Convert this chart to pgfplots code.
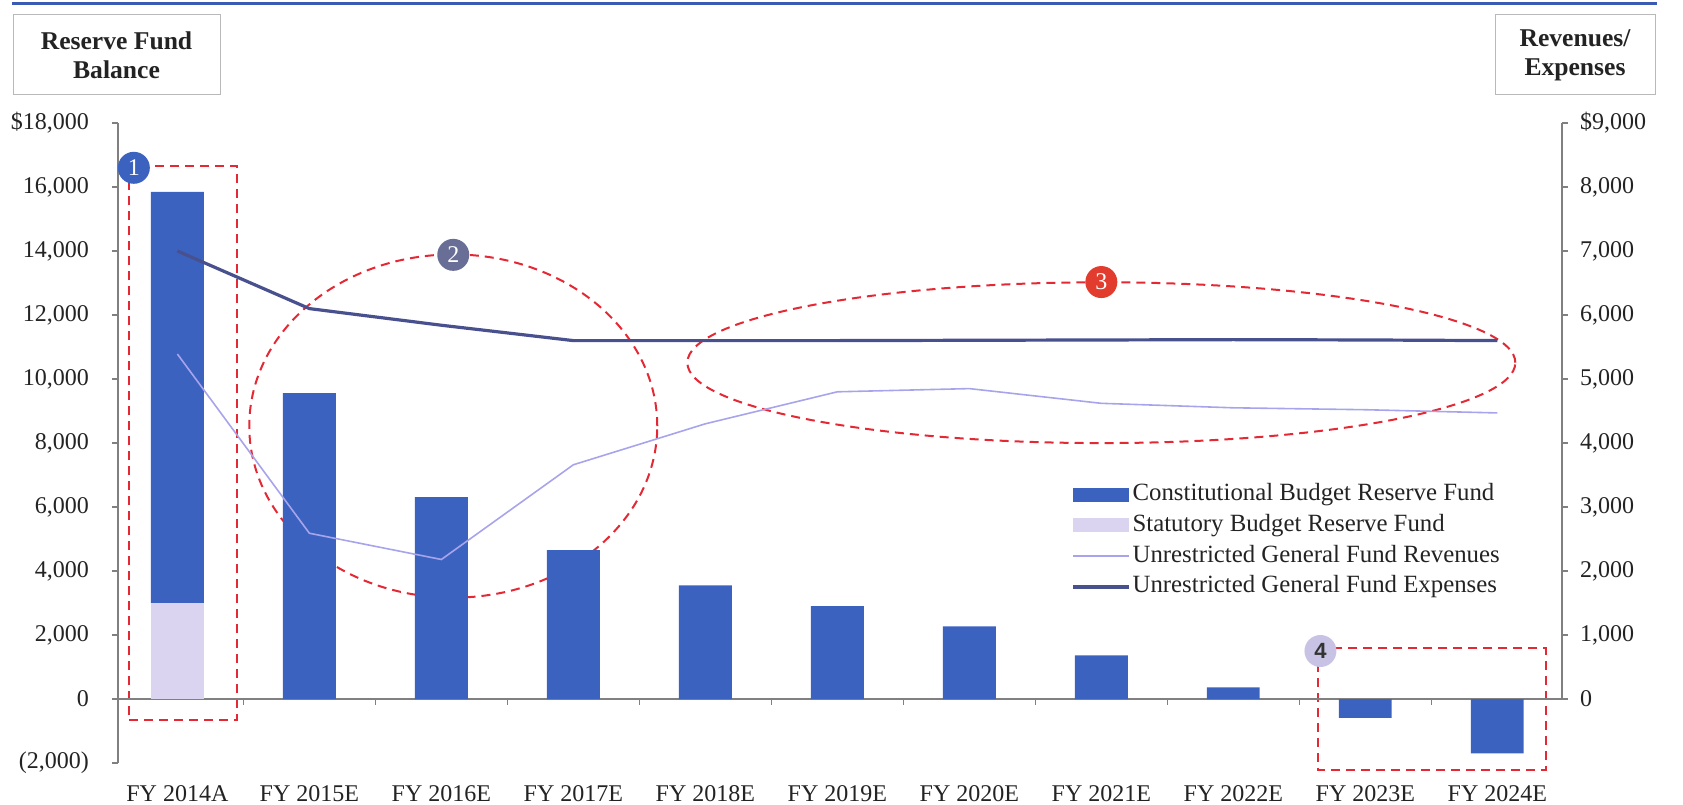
\documentclass[border=0pt]{standalone}
\usepackage{fontspec}
\setmainfont{Liberation Serif}
\setsansfont{Liberation Sans}
\usepackage{pgfplots}
\usepackage{pgfplotstable}
\pgfplotsset{compat=1.18}
\definecolor{cbrf}{RGB}{60,98,192}
\definecolor{sbrf}{RGB}{218,212,240}
\definecolor{revc}{RGB}{168,164,236}
\definecolor{expc}{RGB}{72,80,142}
\definecolor{axgray}{RGB}{128,128,128}
\definecolor{annred}{RGB}{228,40,52}
\definecolor{topblue}{RGB}{58,90,180}
\definecolor{txt}{RGB}{35,35,35}
\definecolor{badgetwo}{RGB}{105,110,150}
\definecolor{badgethree}{RGB}{225,60,45}
\definecolor{badgefour}{RGB}{200,195,228}

% reserve balances (left axis) and revenues/expenses (right axis)
\pgfplotstableread{
x stat const rev exp
0 3000 12850 5390 7000
1 0 9560 2590 6100
2 0 6310 2180 5840
3 0 4650 3660 5600
4 0 3550 4300 5600
5 0 2900 4800 5600
6 0 2270 4850 5605
7 0 1360 4620 5610
8 0 360 4550 5615
9 0 -590 4520 5610
10 0 -1700 4470 5600
}\fundtable

\tikzset{
  ann/.style={annred, line width=1pt, dash pattern=on 4.5pt off 3pt},
  badge/.style={circle, fill=#1, text=white, minimum size=16pt, inner sep=0pt, font=\fontsize{12}{12}\selectfont},
}
\pgfplotsset{
  barlegend/.style={legend image code/.code={\fill[##1] (0pt,-3.5pt) rectangle (28pt,3.5pt);}},
  linelegend/.style={legend image code/.code={\draw[##1] (0pt,0pt) -- (28pt,0pt);}},
}

\begin{document}
\begin{tikzpicture}
\path[use as bounding box] (0pt,0pt) rectangle (841.5pt,402pt);
\draw[topblue, line width=1.5pt] (6pt,400pt) -- (828.5pt,400pt);
\draw[gray!55, line width=0.5pt] (6.5pt,354.5pt) rectangle (110pt,394.5pt);
\node[align=center, font=\bfseries\fontsize{12.8}{14.5}\selectfont, text=txt] at (58.25pt,374.5pt) {Reserve Fund\\Balance};
\draw[gray!55, line width=0.5pt] (747.5pt,354.5pt) rectangle (827.5pt,394.5pt);
\node[align=center, font=\bfseries\fontsize{12.8}{14.5}\selectfont, text=txt] at (787.5pt,374.5pt) {Revenues/\\Expenses};

\begin{axis}[
  at={(59pt,20.5pt)}, anchor=south west,
  scale only axis, width=722pt, height=320pt,
  xmin=-0.45, xmax=10.49, ymin=-2000, ymax=18000,
  ybar stacked, bar width=0.4,
  axis y line*=left, axis x line*=bottom,
  x axis line style={draw=none},
  y axis line style={draw=axgray, line width=0.8pt},
  xtick={0,...,10},
  xticklabels={FY 2014A, FY 2015E, FY 2016E, FY 2017E, FY 2018E, FY 2019E, FY 2020E, FY 2021E, FY 2022E, FY 2023E, FY 2024E},
  xtick style={draw=none},
  scaled y ticks=false,
  ytick={-2000,0,2000,4000,6000,8000,10000,12000,14000,16000,18000},
  yticklabels={{(2,000)},0,{2,000},{4,000},{6,000},{8,000},{10,000},{12,000},{14,000},{16,000},{\$18,000}},
  ytick style={draw=axgray, line width=0.8pt},
  tick align=outside, major tick length=3pt,
  ticklabel style={font=\fontsize{12}{14}\selectfont, text=txt},
  xticklabel style={yshift=-4.5pt},
  yticklabel style={xshift=-8pt},
  clip=false,
]
\addplot[fill=sbrf, draw=none] table[x=x, y=stat] {\fundtable};
\addplot[fill=cbrf, draw=none] table[x=x, y=const] {\fundtable};

\draw[axgray, line width=0.8pt] (axis cs:-0.45,0) -- (axis cs:10.49,0);
\pgfplotsinvokeforeach{0.5,1.5,2.5,3.5,4.5,5.5,6.5,7.5,8.5,9.5}{
  \draw[axgray, line width=0.8pt] (axis cs:#1,0) -- ++(0pt,-3pt);
}

% dashed annotation outlines
\draw[ann] (axis cs:-0.37,16650) rectangle (axis cs:0.45,-670);
\draw[ann] (axis cs:2.09,8530) ellipse [x radius=102pt, y radius=85.8pt];
\draw[ann] (axis cs:7.0,10510) ellipse [x radius=207pt, y radius=40.2pt];
\draw[ann] (axis cs:8.64,1580) rectangle (axis cs:10.37,-2216);
\end{axis}

\begin{axis}[
  at={(59pt,52.5pt)}, anchor=south west,
  scale only axis, width=722pt, height=288pt,
  xmin=-0.45, xmax=10.49, ymin=0, ymax=9000,
  axis x line=none, axis y line*=right,
  y axis line style={draw=axgray, line width=0.8pt},
  scaled y ticks=false,
  ytick={0,1000,2000,3000,4000,5000,6000,7000,8000,9000},
  yticklabels={0,{1,000},{2,000},{3,000},{4,000},{5,000},{6,000},{7,000},{8,000},{\$9,000}},
  ytick style={draw=axgray, line width=0.8pt},
  tick align=outside, major tick length=3pt,
  ticklabel style={font=\fontsize{12}{14}\selectfont, text=txt},
  yticklabel style={xshift=2.5pt},
  legend style={at={(0.660,0.380)}, anchor=north west, draw=none, fill=none,
    font=\fontsize{12.4}{14}\selectfont, text=txt, inner sep=0pt,
    column sep=0pt, row sep=1.4pt,
    nodes={inner sep=1pt, text height=9pt, text depth=3pt}},
  legend cell align=left,
  clip=false,
]
\addlegendimage{fill=cbrf, draw=none, barlegend}
\addlegendentry{Constitutional Budget Reserve Fund}
\addlegendimage{fill=sbrf, draw=none, barlegend}
\addlegendentry{Statutory Budget Reserve Fund}
\addplot[revc, line width=0.8pt, mark=none, linelegend] table[x=x, y=rev] {\fundtable};
\addlegendentry{Unrestricted General Fund Revenues}
\addplot[expc, line width=1.6pt, mark=none, linelegend] table[x=x, y=exp] {\fundtable};
\addlegendentry{Unrestricted General Fund Expenses}

% numbered badges (right-axis units), drawn on top of the outlines
\node[badge=cbrf] at (axis cs:-0.33,8300) {1};
\node[badge=badgetwo] at (axis cs:2.09,6940) {2};
\node[badge=badgethree] at (axis cs:7.0,6515) {3};
\node[badge=badgefour, text=black!80, font=\sffamily\bfseries\fontsize{11}{11}\selectfont] at (axis cs:8.66,750) {4};
\end{axis}
\end{tikzpicture}
\end{document}
